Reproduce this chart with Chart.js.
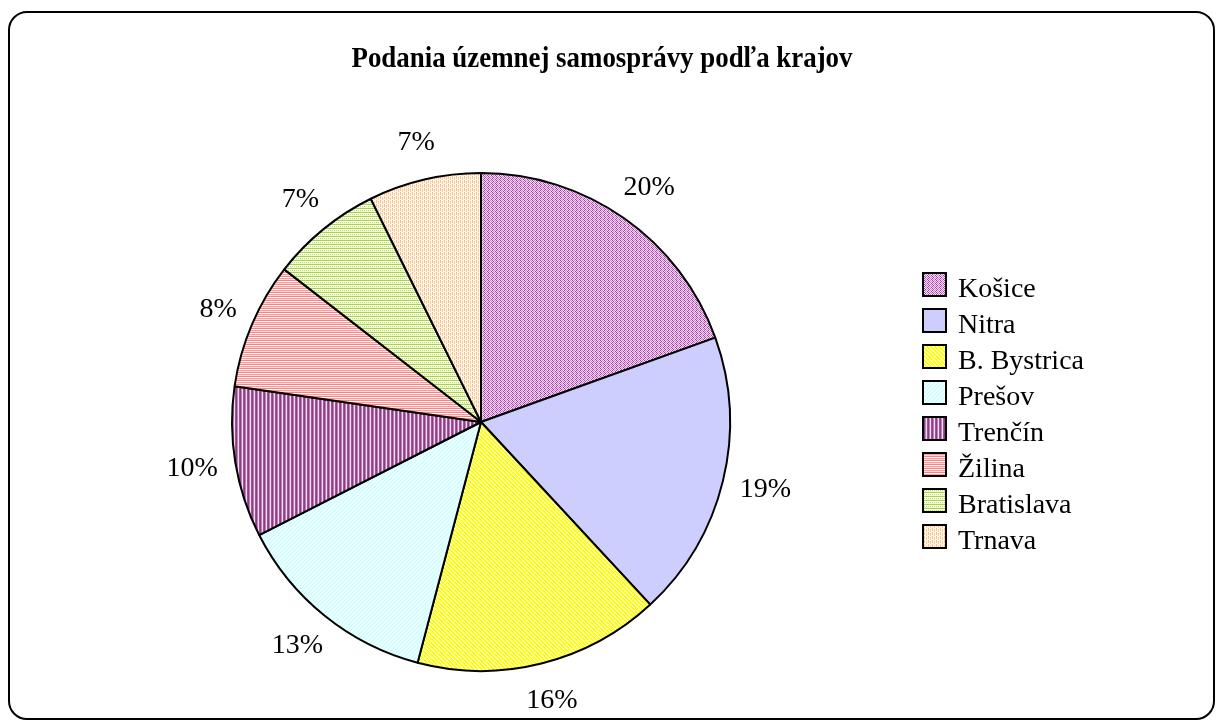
<!DOCTYPE html>
<html>
<head>
<meta charset="utf-8">
<script src="https://cdn.jsdelivr.net/npm/chart.js@4/dist/chart.umd.min.js"></script>
<style>
  html, body { margin: 0; padding: 0; background: #fff; }
  #wrap { width: 1223px; height: 722px; position: relative; }
</style>
</head>
<body>
<div id="wrap"><canvas id="pieChart"></canvas></div>
<script>
const titleText = 'Podania územnej samosprávy podľa krajov';
const regions = ['Košice', 'Nitra', 'B. Bystrica', 'Prešov', 'Trenčín', 'Žilina', 'Bratislava', 'Trnava'];
const shares = [19.5, 18.6, 16.0, 13.4, 9.8, 8.2, 7.2, 7.3];

const serif = '"Liberation Serif", "Times New Roman", serif';

// small tiles that imitate the old Excel fill patterns
function makePattern(w, h, pick) {
  const c = document.createElement('canvas');
  c.width = w; c.height = h;
  const g = c.getContext('2d');
  for (let y = 0; y < h; y++) {
    for (let x = 0; x < w; x++) {
      g.fillStyle = pick(x, y);
      g.fillRect(x, y, 1, 1);
    }
  }
  return g.createPattern(c, 'repeat');
}

const fills = [
  makePattern(4, 4, (x, y) => {
    if ((x + y) % 2) return '#f2dcf2';
    return (x + (y >> 1)) % 4 < 2 ? '#a040a0' : '#d480d4';
  }),
  makePattern(2, 2, (x, y) => (x + y) % 2 ? '#cbcbfd' : '#d0d0ff'),
  makePattern(4, 4, (x, y) => ['#ffff00', '#ffff00', '#ffffff', '#ffff66'][((x - y) % 4 + 4) % 4]),
  makePattern(4, 4, (x, y) => ['#ccffff', '#ccffff', '#ffffff', '#e6ffff'][(x + y) % 4]),
  makePattern(4, 1, x => ['#8b3d84', '#c080b8', '#f0dcee', '#9e5597'][x]),
  makePattern(1, 4, (x, y) => ['#ff8080', '#ffffff', '#ff9999', '#ffe0e0'][y]),
  makePattern(4, 4, (x, y) => {
    if (y === 0) return '#a8d633';
    if (y === 2) return x % 2 ? '#ffffff' : '#b8de55';
    return y === 3 ? '#f0f8d8' : '#ffffff';
  }),
  makePattern(4, 4, (x, y) => {
    if (x === 0 && y < 3) return '#ffc080';
    if (x === 2 && y > 0) return '#ffcc99';
    return '#fff8f0';
  })
];

const decor = {
  id: 'decor',
  beforeDraw(chart) {
    const ctx = chart.ctx;
    ctx.save();
    ctx.fillStyle = '#fff';
    ctx.fillRect(0, 0, chart.width, chart.height);
    ctx.beginPath();
    ctx.roundRect(9, 12, 1205, 707, 18);
    ctx.lineWidth = 2;
    ctx.strokeStyle = '#000';
    ctx.stroke();
    ctx.restore();
  },
  afterDraw(chart) {
    const ctx = chart.ctx;
    ctx.save();

    // title
    ctx.fillStyle = '#000';
    ctx.font = 'bold 30px ' + serif;
    ctx.textAlign = 'center';
    ctx.textBaseline = 'alphabetic';
    ctx.fillText(titleText, 602, 67, 501);

    // percentage labels outside the slices
    const total = shares.reduce((a, b) => a + b, 0);
    ctx.font = '28px ' + serif;
    ctx.textBaseline = 'middle';
    chart.getDatasetMeta(0).data.forEach((arc, i) => {
      const p = arc.getProps(['x', 'y', 'startAngle', 'endAngle', 'outerRadius'], true);
      const mid = (p.startAngle + p.endAngle) / 2;
      const cx = Math.cos(mid), cy = Math.sin(mid);
      const text = Math.round(shares[i] * 100 / total + 1e-9) + '%';
      const w = ctx.measureText(text).width;
      const ax = p.x + cx * (p.outerRadius + 18);
      const ay = p.y + cy * (p.outerRadius + 18);
      ctx.fillText(text, ax + cx * w / 2, ay + cy * 20);
    });

    // legend
    ctx.textAlign = 'left';
    ctx.textBaseline = 'alphabetic';
    regions.forEach((name, i) => {
      const yc = 284.5 + i * 36;
      ctx.fillStyle = fills[i];
      ctx.fillRect(923, yc - 11.5, 23, 23);
      ctx.lineWidth = 2;
      ctx.strokeStyle = '#000';
      ctx.strokeRect(923, yc - 11.5, 23, 23);
      ctx.fillStyle = '#000';
      ctx.fillText(name, 958, yc + 12.5);
    });

    ctx.restore();
  }
};

new Chart(document.getElementById('pieChart'), {
  type: 'pie',
  data: {
    labels: regions,
    datasets: [{
      data: shares,
      backgroundColor: fills,
      borderColor: '#000',
      borderWidth: 2
    }]
  },
  options: {
    responsive: true,
    maintainAspectRatio: false,
    animation: false,
    layout: { padding: { left: 231, right: 492, top: 172, bottom: 50 } },
    plugins: {
      legend: { display: false },
      title: { display: false },
      tooltip: { enabled: false }
    }
  },
  plugins: [decor]
});
</script>
</body>
</html>
